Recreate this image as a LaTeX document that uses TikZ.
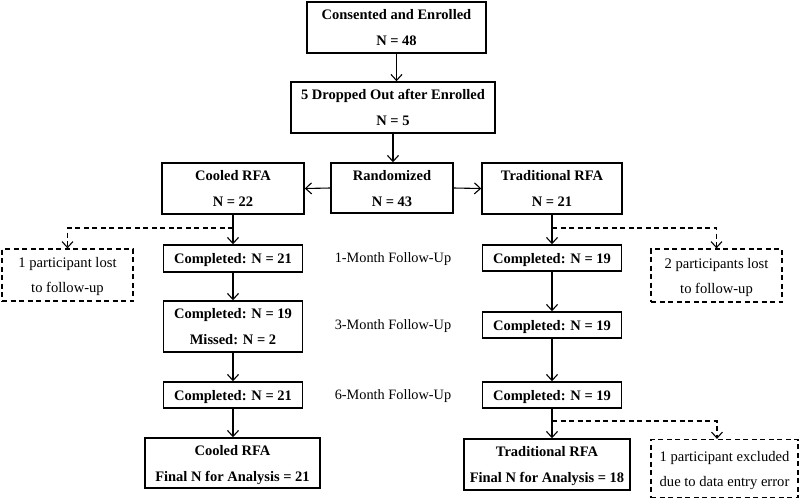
\documentclass[tikz,border=0pt]{standalone}
\usepackage{fontspec}
\setmainfont{Liberation Serif}
\usepackage{tikz}
\usetikzlibrary{arrows.meta}
\usetikzlibrary{positioning}
\usetikzlibrary{calc}
\tikzset{
    stagebox/.style={draw=black, line width=1.5pt, align=center, inner sep=0pt, text depth=0pt,
        font=\fontsize{14.5}{26}\selectfont\bfseries},
    lostbox/.style={draw=black, dashed, dash pattern=on 5pt off 3.5pt, line width=1.3pt,
        align=center, inner sep=0pt, text depth=0pt, font=\fontsize{14.6}{25}\selectfont},
    visit/.style={font=\fontsize{14.3}{16}\selectfont},
    flow/.style={draw=black, line width=1.1pt, -{Straight Barb[length=6pt,width=11pt,line width=1.1pt]}},
    lostflow/.style={draw=black, line width=1.1pt, dash pattern=on 5pt off 3.5pt,
        -{Straight Barb[length=6pt,width=11pt,line width=1.1pt,sep=0pt]}},
}
\begin{document}
\begin{tikzpicture}[x=1pt, y=-1pt]
	\useasboundingbox (0,0) rectangle (800,499);
	% enrolment
	\node[stagebox, minimum width=179pt, minimum height=51pt] (enrol) at (396.5,27.5) {Consented and Enrolled\\N = 48};
	\node[stagebox, minimum width=204pt, minimum height=51pt] (drop) at (393,107.5) {5 Dropped Out after Enrolled\\N = 5};
	\node[stagebox, minimum width=122pt, minimum height=50pt] (rand) at (392,188) {Randomized\\N = 43};
	\node[stagebox, minimum width=142pt, minimum height=51pt] (cool) at (233,188.5) {Cooled RFA\\N = 22};
	\node[stagebox, minimum width=140pt, minimum height=51pt] (trad) at (552,188.5) {Traditional RFA\\N = 21};
	% follow-up, cooled arm
	\node[stagebox, minimum width=139pt, minimum height=27pt] (cool1) at (233,258.5) {Completed: N = 21};
	\node[stagebox, minimum width=139pt, minimum height=51pt] (cool3) at (233,326.5) {Completed: N = 19\\Missed: N = 2};
	\node[stagebox, minimum width=139pt, minimum height=26pt] (cool6) at (233,395) {Completed: N = 21};
	\node[stagebox, minimum width=175pt, minimum height=50pt] (coolfin) at (232.5,463) {Cooled RFA\\Final N for Analysis = 21};
	% follow-up, traditional arm
	\node[stagebox, minimum width=139pt, minimum height=26pt] (trad1) at (552,258) {Completed: N = 19};
	\node[stagebox, minimum width=139pt, minimum height=26pt] (trad3) at (552,325) {Completed: N = 19};
	\node[stagebox, minimum width=139pt, minimum height=26pt] (trad6) at (552,395) {Completed: N = 19};
	\node[stagebox, minimum width=166pt, minimum height=51pt] (tradfin) at (547,464.5) {Traditional RFA\\Final N for Analysis = 18};
	% losses
	\node[lostbox, minimum width=131pt, minimum height=52pt] (lostA) at (67.5,275) {1 participant lost\\to follow-up};
	\node[lostbox, minimum width=131pt, minimum height=53pt] (lostB) at (716.5,275.5) {2 participants lost\\to follow-up};
	\node[lostbox, minimum width=147pt, minimum height=58pt] (excl) at (724.5,468.5) {1 participant excluded\\due to data entry error};
	% visit labels
	\node[visit] (m1) at (393,259) {1-Month Follow-Up};
	\node[visit] (m3) at (393,326) {3-Month Follow-Up};
	\node[visit] (m6) at (393,396) {6-Month Follow-Up};
	% branch points
	\coordinate (splitA) at (233,228);
	\coordinate (splitB) at (552,228);
	\coordinate (splitC) at (552,421);
	% connectors
	\draw[flow] (enrol.south) -- (enrol.south |- drop.north);
	\draw[flow] (drop.south) -- (drop.south |- rand.north);
	\draw[flow] (rand.west) -- (cool.east);
	\draw[flow] (rand.east) -- (trad.west);
	\draw[flow] (cool.south) -- (cool1.north);
	\draw[flow] (cool1.south) -- (cool3.north);
	\draw[flow] (cool3.south) -- (cool6.north);
	\draw[flow] (cool6.south) -- (cool6.south |- coolfin.north);
	\draw[flow] (trad.south) -- (trad1.north);
	\draw[flow] (trad1.south) -- (trad3.north);
	\draw[flow] (trad3.south) -- (trad6.north);
	\draw[flow] (trad6.south) -- (trad6.south |- tradfin.north);
	\draw[lostflow] (splitA) -| (lostA.north);
	\draw[lostflow] (splitB) -| (lostB.north);
	\draw[lostflow] (splitC) -| ([xshift=-7.5pt]excl.north);
\end{tikzpicture}
\end{document}
